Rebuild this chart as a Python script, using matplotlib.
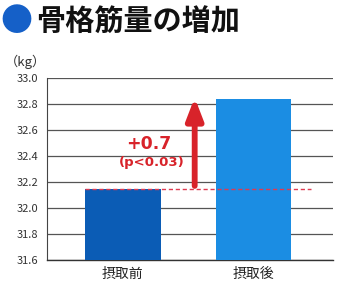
import matplotlib
matplotlib.use("Agg")
import matplotlib.pyplot as plt

plt.rcParams['font.family'] = ['Noto Sans CJK JP', 'DejaVu Sans']

# data
labels = ['摂取前', '摂取後']
values = [32.15, 32.84]
colors = ['#0b5cb5', '#1b8de3']
yticks = [31.6, 31.8, 32.0, 32.2, 32.4, 32.6, 32.8, 33.0]
diff_text = '+0.7'
p_text = '(p<0.03)'
title = '骨格筋量の増加'

fig = plt.figure(figsize=(3.45, 2.9), dpi=100)
ax = fig.add_axes([0.136, 0.1034, 0.829, 0.6276])

x = range(len(labels))
ax.bar(x, values, width=0.58, color=colors, zorder=3)
ax.set_xlim(-0.582, 1.609)
ax.set_ylim(31.6, 33.0)
ax.set_yticks(yticks)
ax.set_yticklabels(['%.1f' % t for t in yticks], fontsize=8, color='#333333')
ax.set_xticks(list(x))
ax.set_xticklabels(labels, fontsize=10, color='#222222')
ax.tick_params(axis='x', length=0, pad=5)
ax.tick_params(axis='y', length=0, pad=6)
ax.grid(axis='y', color='#555555', linewidth=0.9, zorder=1)
for s in ['top', 'right']:
    ax.spines[s].set_visible(False)
ax.spines['left'].set_color('#444444')
ax.spines['left'].set_linewidth(0.8)
ax.spines['bottom'].set_color('#333333')
ax.spines['bottom'].set_linewidth(1.0)

# baseline dashed line
ax.plot([-0.29, 1.44], [values[0], values[0]], color='#e03a50', linestyle=(0, (3, 2)),
        linewidth=1.0, zorder=4)

# arrow
ax.annotate('', xy=(0.55, 32.85), xytext=(0.55, values[0] + 0.02),
            arrowprops=dict(arrowstyle='-|>,head_length=1.3,head_width=0.5',
                            color='#d8232a', linewidth=4.2, shrinkA=0, shrinkB=0),
            zorder=5)
ax.text(0.2, 32.49, diff_text, color='#d8232a', fontsize=12.5, fontweight='bold',
        ha='center', va='center', family=['DejaVu Sans'])
ax.text(0.22, 32.35, p_text, color='#d8232a', fontsize=9.5, fontweight='bold',
        ha='center', va='center', family=['DejaVu Sans'])

fig.text(0.075, 0.786, '（kg）', fontsize=9.5, color='#333333', ha='center', va='center')
fig.text(0.0, 0.925, '●', fontsize=23, color='#1560c8', ha='left', va='center')
fig.text(0.105, 0.925, title, fontsize=21, fontweight='bold', color='#111111',
         ha='left', va='center')

fig.savefig('out.png', dpi=100)
